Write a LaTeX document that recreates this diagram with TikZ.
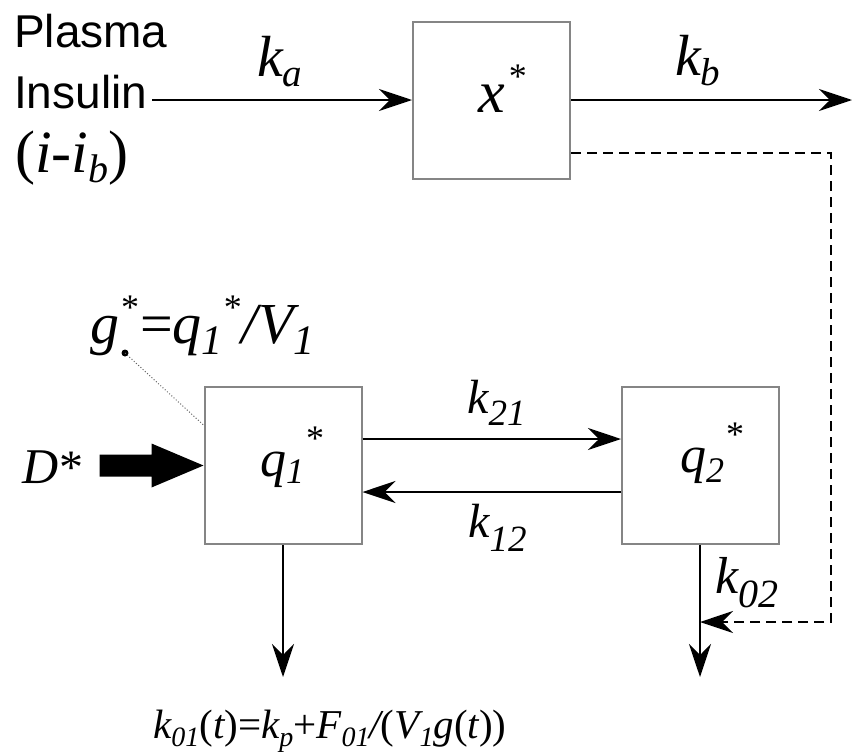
\documentclass[tikz,border=0pt]{standalone}
\usepackage{fontspec}
\setmainfont{Liberation Serif}
\newfontfamily\arialf{Liberation Sans}
\usetikzlibrary{arrows.meta,calc}
\newcommand\fs[1]{\fontsize{#1}{#1}\selectfont}
\newcommand\sbx[3]{\raisebox{-#1}{\fs{#2}\itshape #3}}
\newcommand\stx[2]{\raisebox{#1}{\fs{#2}\upshape *}}
\tikzset{
  box/.style={draw=black!48, line width=2pt, minimum size=157pt, inner sep=0pt},
  lbl/.style={inner sep=0pt, anchor=base west, font=\itshape},
  arr/.style={draw=black, line width=2pt, -{Stealth[length=33pt,width=22pt,inset=11pt]}},
  dashline/.style={draw=black, line width=2pt, dash pattern=on 10pt off 6pt, -{Stealth[length=33pt,width=22pt,inset=11pt]}},
}
\begin{document}
\begin{tikzpicture}[x=1pt,y=-1pt]
\useasboundingbox (0,0) rectangle (852,755);
% boxes
\node[box] (xs) at (491.5,100) {};
\node[box] (q1) at (283,465.5) {};
\node[box] (q2) at (700.5,465.5) {};
% texts
\node[lbl, font=\arialf\upshape\fs{46}] (plasma) at (14,47) {Plasma};
\node[lbl, font=\arialf\upshape\fs{46}] (insulin) at (14,108) {Insulin};
\node[lbl] (iib) at (15,172) {\fs{60}\upshape(\itshape i-i\sbx{10pt}{40}{b}\upshape)};
\node[lbl] (ka) at (257,76) {\fs{58}k\sbx{10pt}{39}{a}};
\node[lbl] (kb) at (675,75) {\fs{58}k\sbx{10pt}{39}{b}};
\node[lbl] (xt) at (478,112) {\fs{60}x\kern4pt\stx{24pt}{36}};
\node[lbl] (q1t) at (260,476) {\fs{52}q\sbx{7pt}{36}{1}\kern2pt\stx{26pt}{36}};
\node[lbl] (q2t) at (680,472) {\fs{52}q\sbx{10pt}{36}{2}\kern2pt\stx{26pt}{36}};
\node[lbl] (k21) at (467,413) {\fs{48}k\sbx{12pt}{37}{21}};
\node[lbl] (k12) at (468,537) {\fs{48}k\sbx{14pt}{37}{12}};
\node[lbl] (k02) at (715,593) {\fs{52}k\sbx{14pt}{40}{02}};
\node[lbl] (dt) at (22,483) {\fs{50}D\kern1pt\stx{0pt}{48}};
\node[lbl] (gt) at (90,343) {\fs{58}g\kern2pt\stx{24pt}{36}\kern1pt\upshape=\itshape q\sbx{11pt}{42}{1}\kern1pt\stx{24pt}{36}/V\sbx{11pt}{42}{1}};
\node[lbl] (k01) at (153,738) {\fs{41}k\sbx{8pt}{28}{01}\upshape(\itshape t\upshape)=\itshape k\sbx{8pt}{28}{p}\upshape+\itshape F\sbx{8pt}{28}{01}/\upshape(\itshape V\sbx{8pt}{28}{1}g\upshape(\itshape t\upshape))};
% connectors
\coordinate (ins) at (152,100);
\coordinate (kbend) at (852,100);
\draw[arr] (ins) -- (xs.west);
\draw[arr] (xs.east) -- (kbend);
\coordinate (dA) at (831,153);
\coordinate (dB) at (831,622);
\coordinate (dC) at (700,622);
\draw[dashline] (xs.east |- dA) -- (dA) -- (dB) -- (dC);
\draw[arr] ([yshift=26.5pt]q1.east) -- ([yshift=26.5pt]q2.west);
\draw[arr] ([yshift=-26.5pt]q2.west) -- ([yshift=-26.5pt]q1.east);
\coordinate (o1) at (283,677);
\coordinate (o2) at (700,677);
\draw[arr] (q1.south) -- (o1);
\draw[arr] (q2.south -| o2) -- (o2);
% D* thick arrow
\fill[black] ($(q1.west)+(-104,-11)$) -- ++(52,0) -- ++(0,-11) -- ($(q1.west)+(0,0)$) -- ($(q1.west)+(-52,22)$) -- ++(0,-11) -- ++(-52,0) -- cycle;
% g* pointer
\coordinate (gdot) at (125,353);
\fill (gdot) circle (3.5);
\draw[black!60, line width=1pt, dotted] (gdot) -- ($(q1.north west)+(0,39)$);
\end{tikzpicture}
\end{document}
